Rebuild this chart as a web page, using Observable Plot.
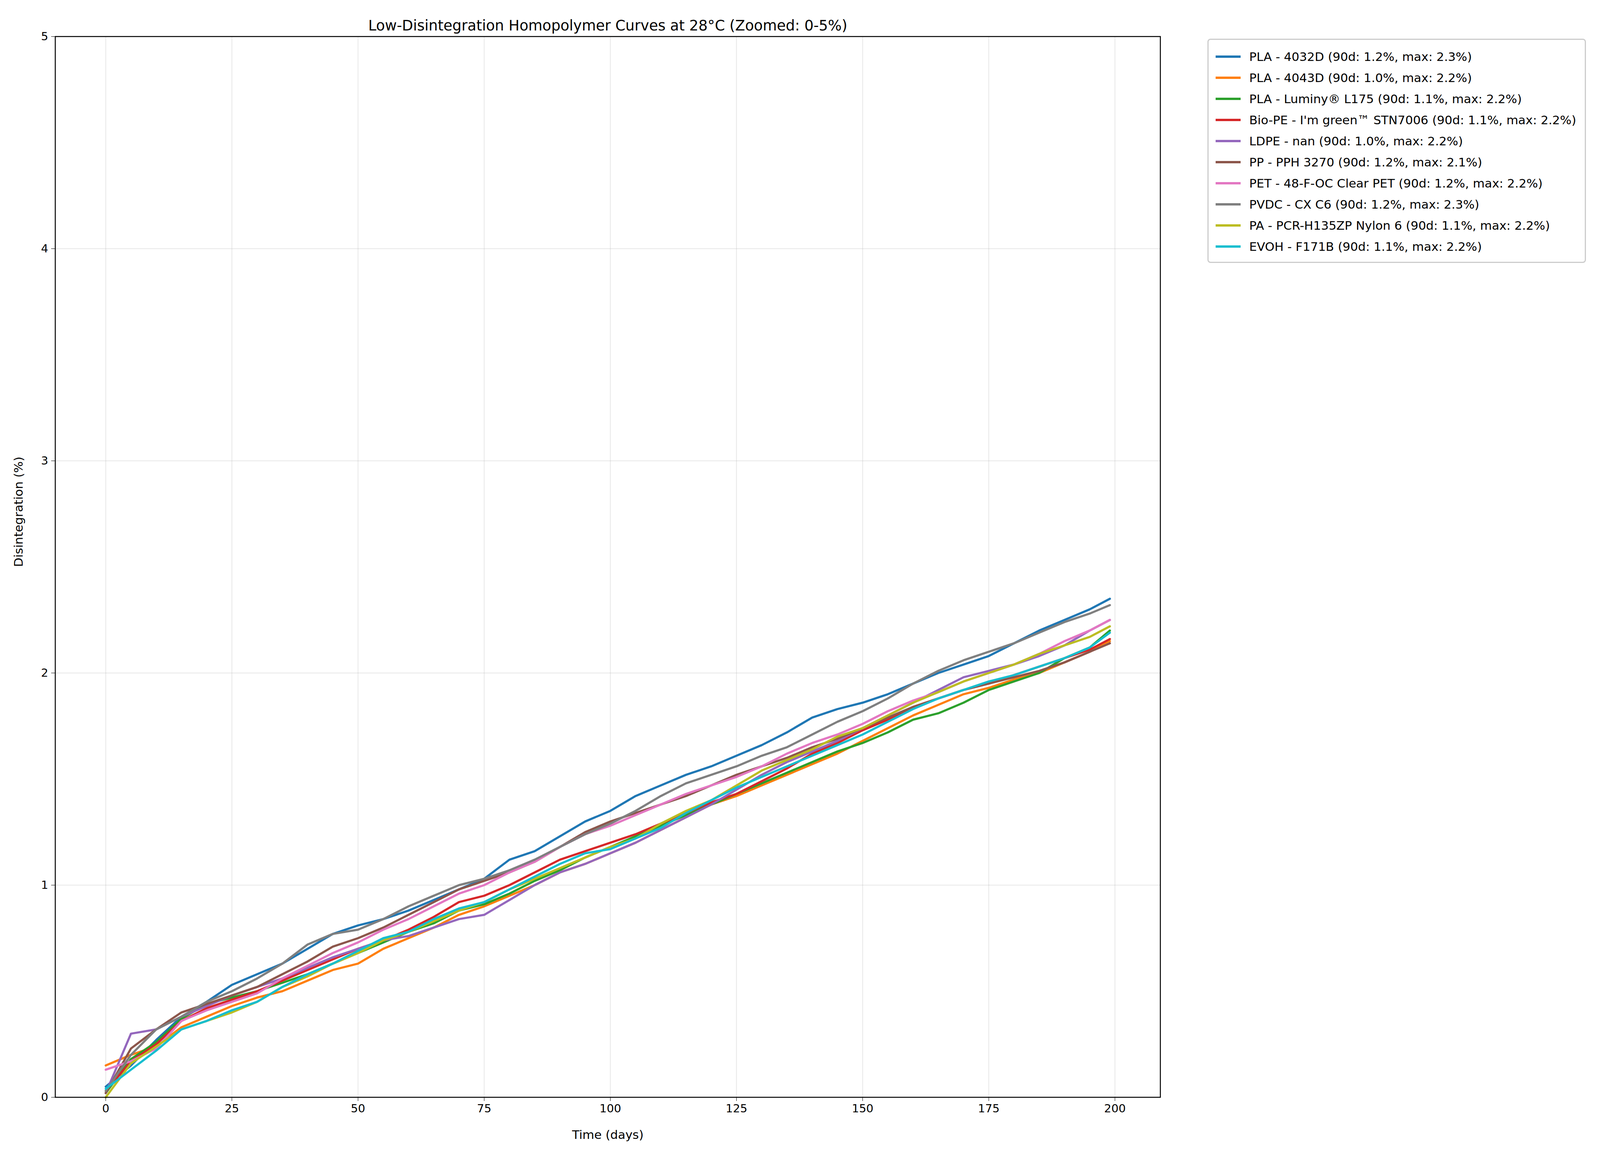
<!DOCTYPE html>
<html>
<head>
<meta charset="utf-8">
<script src="https://cdn.jsdelivr.net/npm/d3@7"></script>
<script src="https://cdn.jsdelivr.net/npm/@observablehq/plot@0.6"></script>
<style>
  body { margin: 0; background: white; font-family: "DejaVu Sans", sans-serif; }
  #wrap { position: relative; width: 4435px; height: 2969px; }
  #legend { position: absolute; left: 3091px; top: 99px; border: 3px solid #ccc; border-radius: 8px;
            padding: 16px 22px 12px 18px; font-size: 31px; background: white; }
  .row { display: flex; align-items: center; height: 54px; }
  .sw { width: 64px; height: 6px; margin-right: 22px; }
</style>
</head>
<body>
<div id="wrap"><div id="chart"></div><div id="legend"></div></div>
<script>
const days = [0,5,10,15,20,25,30,35,40,45,50,55,60,65,70,75,80,85,90,95,100,105,110,115,120,125,130,135,140,145,150,155,160,165,170,175,180,185,190,195,199];

const names = [
  "PLA - 4032D  (90d: 1.2%, max: 2.3%)",
  "PLA - 4043D  (90d: 1.0%, max: 2.2%)",
  "PLA - Luminy® L175 (90d: 1.1%, max: 2.2%)",
  "Bio-PE - I'm green™ STN7006 (90d: 1.1%, max: 2.2%)",
  "LDPE - nan (90d: 1.0%, max: 2.2%)",
  "PP - PPH 3270 (90d: 1.2%, max: 2.1%)",
  "PET - 48-F-OC Clear PET (90d: 1.2%, max: 2.2%)",
  "PVDC - CX C6 (90d: 1.2%, max: 2.3%)",
  "PA - PCR-H135ZP Nylon 6 (90d: 1.1%, max: 2.2%)",
  "EVOH - F171B (90d: 1.1%, max: 2.2%)"
];
const colors = ["#1f77b4","#ff7f0e","#2ca02c","#d62728","#9467bd","#8c564b","#e377c2","#7f7f7f","#bcbd22","#17becf"];

const pla4032 = [0.05,0.15,0.27,0.38,0.45,0.53,0.58,0.63,0.70,0.77,0.81,0.84,0.88,0.93,0.98,1.03,1.12,1.16,1.23,1.30,1.35,1.42,1.47,1.52,1.56,1.61,1.66,1.72,1.79,1.83,1.86,1.90,1.95,2.00,2.04,2.08,2.14,2.20,2.25,2.30,2.35];
const pla4043 = [0.15,0.20,0.24,0.33,0.38,0.43,0.47,0.50,0.55,0.60,0.63,0.70,0.75,0.80,0.86,0.90,0.95,1.00,1.06,1.10,1.15,1.20,1.26,1.32,1.38,1.42,1.47,1.52,1.57,1.62,1.68,1.74,1.80,1.85,1.90,1.93,1.97,2.00,2.05,2.10,2.15];
const luminy = [0.02,0.18,0.26,0.37,0.44,0.47,0.50,0.54,0.58,0.63,0.68,0.73,0.78,0.82,0.88,0.91,0.96,1.02,1.07,1.13,1.18,1.23,1.28,1.33,1.38,1.43,1.48,1.53,1.58,1.63,1.67,1.72,1.78,1.81,1.86,1.92,1.96,2.00,2.07,2.12,2.20];
const biope = [0.03,0.17,0.25,0.36,0.42,0.46,0.50,0.55,0.60,0.65,0.70,0.74,0.79,0.85,0.92,0.95,1.00,1.06,1.12,1.16,1.20,1.24,1.29,1.34,1.39,1.43,1.49,1.55,1.62,1.67,1.73,1.78,1.84,1.88,1.92,1.95,1.99,2.03,2.07,2.11,2.16];
const ldpe = [0.02,0.30,0.32,0.38,0.43,0.48,0.52,0.56,0.61,0.66,0.70,0.74,0.76,0.80,0.84,0.86,0.93,1.00,1.06,1.10,1.15,1.20,1.26,1.32,1.38,1.45,1.52,1.58,1.63,1.68,1.74,1.80,1.86,1.92,1.98,2.01,2.04,2.08,2.13,2.20,2.25];
const pp = [0.02,0.23,0.32,0.40,0.44,0.48,0.52,0.58,0.64,0.71,0.75,0.80,0.86,0.92,0.98,1.02,1.06,1.11,1.18,1.25,1.30,1.34,1.38,1.42,1.47,1.52,1.56,1.60,1.65,1.69,1.74,1.79,1.84,1.88,1.92,1.95,1.98,2.01,2.05,2.10,2.14];
const pet = [0.13,0.17,0.23,0.36,0.41,0.45,0.49,0.56,0.62,0.68,0.73,0.79,0.84,0.90,0.96,1.00,1.06,1.11,1.18,1.24,1.28,1.33,1.38,1.43,1.47,1.51,1.56,1.62,1.67,1.71,1.76,1.82,1.87,1.91,1.96,2.00,2.04,2.09,2.15,2.20,2.25];
const pvdc = [0.03,0.20,0.32,0.38,0.45,0.50,0.56,0.63,0.72,0.77,0.79,0.84,0.90,0.95,1.00,1.03,1.07,1.12,1.18,1.24,1.29,1.35,1.42,1.48,1.52,1.56,1.61,1.65,1.71,1.77,1.82,1.88,1.95,2.01,2.06,2.10,2.14,2.19,2.24,2.28,2.32];
const pa = [0.00,0.16,0.24,0.32,0.36,0.40,0.45,0.52,0.57,0.63,0.68,0.74,0.78,0.83,0.88,0.92,0.98,1.03,1.08,1.13,1.18,1.22,1.29,1.35,1.40,1.47,1.54,1.59,1.64,1.70,1.74,1.80,1.86,1.91,1.96,2.00,2.04,2.09,2.13,2.17,2.22];
const evoh = [0.04,0.13,0.22,0.32,0.36,0.41,0.45,0.52,0.58,0.63,0.69,0.75,0.78,0.84,0.89,0.92,0.98,1.04,1.10,1.15,1.17,1.22,1.27,1.34,1.40,1.46,1.51,1.56,1.61,1.66,1.71,1.77,1.83,1.88,1.92,1.96,1.99,2.03,2.07,2.12,2.19];

const series = [pla4032, pla4043, luminy, biope, ldpe, pp, pet, pvdc, pa, evoh];
const rows = series.flatMap((vals, i) => vals.map((v, j) => ({name: names[i], day: days[j], value: v})));

const xTicks = [0,25,50,75,100,125,150,175,200];
const yTicks = [0,1,2,3,4,5];

const chart = Plot.plot({
  width: 4435, height: 2969,
  marginLeft: 141, marginRight: 1465, marginTop: 93, marginBottom: 161,
  style: {fontSize: "29px", fontFamily: "DejaVu Sans"},
  x: {domain: [-10, 209], label: null},
  y: {domain: [0, 5], label: null},
  color: {domain: names, range: colors},
  marks: [
    Plot.gridX({ticks: xTicks, stroke: "#b0b0b0", strokeOpacity: 0.3, strokeWidth: 2}),
    Plot.gridY({ticks: [1,2,3,4], stroke: "#b0b0b0", strokeOpacity: 0.3, strokeWidth: 2}),
    Plot.lineY(rows, {x: "day", y: "value", stroke: "name", strokeWidth: 5.5}),
    Plot.frame({stroke: "black", strokeWidth: 2.5}),
    Plot.axisX({ticks: xTicks, tickFormat: d3.format("d"), tickSize: 10, tickPadding: 8, label: null}),
    Plot.axisY({ticks: yTicks, tickFormat: d3.format("d"), tickSize: 10, tickPadding: 8, label: null}),
    Plot.text(["Low-Disintegration Homopolymer Curves at 28°C (Zoomed: 0-5%)"], {frameAnchor: "top", dy: -42, fontSize: 37}),
    Plot.text(["Time (days)"], {frameAnchor: "bottom", dy: 106, fontSize: 31}),
    Plot.text(["Disintegration (%)"], {frameAnchor: "left", dx: -93, rotate: -90, fontSize: 31})
  ]
});
document.getElementById("chart").append(chart);

const legend = d3.select("#legend");
names.forEach((n, i) => {
  const r = legend.append("div").attr("class", "row");
  r.append("div").attr("class", "sw").style("background", colors[i]);
  r.append("span").text(n);
});
</script>
</body>
</html>
